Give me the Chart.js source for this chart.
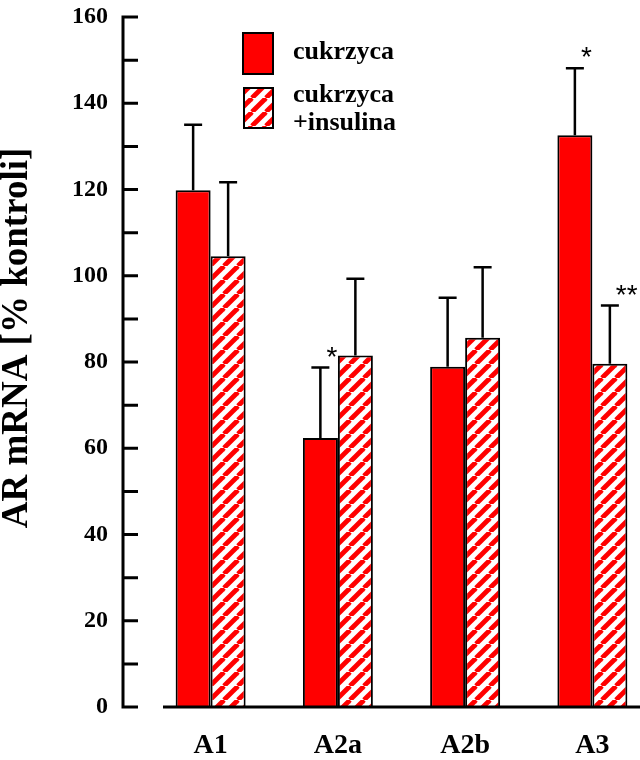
<!DOCTYPE html>
<html>
<head>
<meta charset="utf-8">
<script src="https://cdn.jsdelivr.net/npm/chart.js@4.4.1/dist/chart.umd.min.js"></script>
<style>
  html, body { margin: 0; padding: 0; background: #fff; overflow: hidden; }
  #wrap { position: absolute; left: 0; top: 0; width: 660px; height: 760px; }
</style>
</head>
<body>
<div id="wrap"><canvas id="chart"></canvas></div>
<script>
const categories = ["A1", "A2a", "A2b", "A3"];
const seriesLabels = ["cukrzyca", "cukrzyca\n+insulina"];
const diabetes = [119.8, 62.4, 78.9, 132.6];
const diabetesSd = [15.2, 16.3, 16.0, 15.5];
const diabetesSig = ["", "*", "", "*"];
const insulin = [104.5, 81.5, 85.6, 79.6];
const insulinSd = [17.2, 17.8, 16.4, 13.5];
const insulinSig = ["", "", "", "**"];
const yTicks = [0, 20, 40, 60, 80, 100, 120, 140, 160];

const RED = "#ff0000";
const SERIF = '"Liberation Serif", "Times New Roman", serif';

// red/white diagonal hatch for the insulin series
function makeHatch() {
  const s = 14;
  const c = document.createElement("canvas");
  c.width = s; c.height = s;
  const g = c.getContext("2d");
  g.fillStyle = "#fff";
  g.fillRect(0, 0, s, s);
  g.strokeStyle = RED;
  g.lineWidth = 4.8;
  for (const x0 of [-s, 0, s]) {
    g.beginPath();
    g.moveTo(x0, s);
    g.lineTo(x0 + s, 0);
    g.stroke();
  }
  return g.createPattern(c, "repeat");
}
const hatch = makeHatch();

const extras = [
  { sd: diabetesSd, sig: diabetesSig },
  { sd: insulinSd, sig: insulinSig }
];

// axis lines with major/minor ticks, y title, error bars, stars, legend
const decorations = {
  id: "decorations",
  afterDatasetsDraw(chart) {
    const ctx = chart.ctx;
    const y = chart.scales.y;
    const area = chart.chartArea;
    ctx.save();
    ctx.strokeStyle = "#000";

    // error bars
    ctx.lineWidth = 2.5;
    chart.data.datasets.forEach((ds, i) => {
      const meta = chart.getDatasetMeta(i);
      meta.data.forEach((bar, j) => {
        const top = y.getPixelForValue(ds.data[j] + extras[i].sd[j]);
        ctx.beginPath();
        ctx.moveTo(bar.x, bar.y);
        ctx.lineTo(bar.x, top);
        ctx.moveTo(bar.x - 9, top);
        ctx.lineTo(bar.x + 9, top);
        ctx.stroke();
        const mark = extras[i].sig[j];
        if (mark) {
          ctx.fillStyle = "#000";
          ctx.font = '28px "Liberation Sans", Arial, sans-serif';
          ctx.textAlign = "left";
          ctx.textBaseline = "alphabetic";
          ctx.fillText(mark, bar.x + 6, top - 2);
        }
      });
    });

    // y axis line + ticks every 10
    const axX = area.left - 24;
    ctx.lineWidth = 3;
    ctx.beginPath();
    ctx.moveTo(axX, y.getPixelForValue(160) - 1.5);
    ctx.lineTo(axX, y.getPixelForValue(0) + 1.5);
    for (let v = 0; v <= 160; v += 10) {
      const py = y.getPixelForValue(v);
      ctx.moveTo(axX, py);
      ctx.lineTo(axX + 15, py);
    }
    // x axis line
    const y0 = y.getPixelForValue(0);
    ctx.moveTo(area.left + 16, y0);
    ctx.lineTo(chart.width, y0);
    ctx.stroke();

    // y title
    ctx.save();
    ctx.translate(27, 338);
    ctx.rotate(-Math.PI / 2);
    ctx.fillStyle = "#000";
    ctx.font = "bold 37px " + SERIF;
    ctx.textAlign = "center";
    ctx.textBaseline = "alphabetic";
    ctx.fillText("AR mRNA [% kontroli]", 0, 0);
    ctx.restore();

    // legend
    const boxes = [
      { x: 243, y: 33, w: 30, h: 41, textX: 293, lines: [59] },
      { x: 244, y: 88, w: 29, h: 40, textX: 293, lines: [102, 130] }
    ];
    ctx.font = "bold 26px " + SERIF;
    ctx.textAlign = "left";
    chart.data.datasets.forEach((ds, i) => {
      const b = boxes[i];
      ctx.fillStyle = ds.backgroundColor;
      ctx.fillRect(b.x, b.y, b.w, b.h);
      ctx.lineWidth = 2;
      ctx.strokeRect(b.x, b.y, b.w, b.h);
      ctx.fillStyle = "#000";
      ds.label.split("\n").forEach((t, k) => ctx.fillText(t, b.textX, b.lines[k]));
    });
    ctx.restore();
  }
};

new Chart(document.getElementById("chart"), {
  type: "bar",
  data: {
    labels: categories,
    datasets: [
      { label: seriesLabels[0], data: diabetes, backgroundColor: RED, borderColor: "#000", borderWidth: 2 },
      { label: seriesLabels[1], data: insulin, backgroundColor: hatch, borderColor: "#000", borderWidth: 2 }
    ]
  },
  options: {
    responsive: true,
    maintainAspectRatio: false,
    animation: false,
    devicePixelRatio: 1,
    layout: { padding: { top: 17, right: 4, bottom: 0, left: 0 } },
    datasets: { bar: { categoryPercentage: 0.55, barPercentage: 1 } },
    plugins: { legend: { display: false }, tooltip: { enabled: false } },
    scales: {
      x: {
        grid: { display: false, drawTicks: false },
        border: { display: false },
        ticks: { color: "#000", font: { family: SERIF, size: 28, weight: "bold" }, padding: 22 },
        afterFit: s => { s.height = 53; s.paddingLeft = 0; s.paddingRight = 0; }
      },
      y: {
        min: 0, max: 160,
        afterBuildTicks: s => { s.ticks = yTicks.map(v => ({ value: v })); },
        grid: { display: false, drawTicks: false },
        border: { display: false },
        ticks: { color: "#000", font: { family: SERIF, size: 24, weight: "bold" }, padding: 39 },
        afterFit: s => { s.width = 147; s.paddingTop = 0; s.paddingBottom = 0; }
      }
    }
  },
  plugins: [decorations]
});
</script>
</body>
</html>
